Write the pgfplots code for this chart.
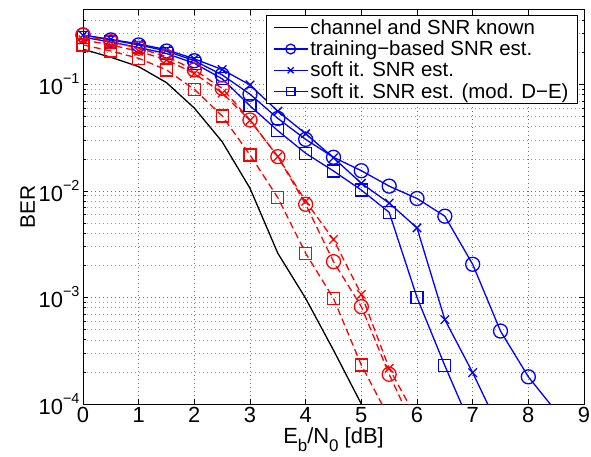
\documentclass[border=0pt]{standalone}
\usepackage{fontspec}
\setmainfont{Liberation Sans}
\usepackage{pgfplots}
\pgfplotsset{compat=1.18}

\newcommand\pten[1]{10\raisebox{11bp}{\fontsize{14.5}{14.5}\selectfont −#1}}
\newcommand\lowsub[1]{\raisebox{-8bp}{\fontsize{17}{17}\selectfont #1}}

\begin{document}
\begin{tikzpicture}
\begin{axis}[
    scale only axis,
    width=501bp, height=394bp,
    ymode=log,
    xmin=0, xmax=9,
    ymin=1e-4, ymax=0.5,
    xtick={0,1,2,3,4,5,6,7,8,9},
    xticklabels={0,1,2,3,4,5,6,7,8,9},
    ytick={1e-4,1e-3,1e-2,1e-1},
    yticklabels={\pten{4},\pten{3},\pten{2},\pten{1}},
    minor ytick={2e-4,3e-4,4e-4,5e-4,6e-4,7e-4,8e-4,9e-4,
                 2e-3,3e-3,4e-3,5e-3,6e-3,7e-3,8e-3,9e-3,
                 2e-2,3e-2,4e-2,5e-2,6e-2,7e-2,8e-2,9e-2,
                 0.2,0.3,0.4},
    grid=both,
    major grid style={black!55, dash pattern=on 0.8bp off 3.2bp, line width=0.7bp},
    minor grid style={black!40, dash pattern=on 0.8bp off 3.2bp, line width=0.7bp},
    tick align=inside,
    xtick pos=both, ytick pos=both,
    major tick length=5bp, minor tick length=2.5bp,
    tick style={black, line width=0.8bp},
    axis line style={black, line width=1bp},
    every tick label/.append style={font=\fontsize{22}{26}\selectfont},
    xlabel style={font=\fontsize{22}{26}\selectfont, yshift=2bp},
    ylabel style={font=\fontsize{21}{25}\selectfont, yshift=-3bp},
    xlabel={E\lowsub{b}/N\lowsub{0} [dB]},
    ylabel={BER},
    legend style={at={(0.988,0.987)}, anchor=north east,
        draw=black, line width=1bp, font=\fontsize{20.5}{23}\selectfont,
        cells={anchor=west}, row sep=1bp, inner xsep=7bp, inner ysep=2bp},
    legend image code/.code={
        \draw[mark repeat=2, mark phase=2, #1, every mark/.append style={scale=0.7}]
        plot coordinates {(0bp,0bp) (17bp,0bp) (34bp,0bp)};},
]
% channel and SNR known
\addplot[black, line width=1.3bp] coordinates {
    (0,0.214) (0.5,0.18) (1,0.147) (1.5,0.104) (2,0.06) (2.5,0.029)
    (3,0.0106) (3.5,0.0026) (4,0.00098) (4.5,0.00032) (5,0.0001) (5.5,0.00003)
};
\addlegendentry{channel and SNR known}
% training-based SNR est.
\addplot[blue, line width=1.3bp, mark=o, mark size=7bp] coordinates {
    (0,0.292) (0.5,0.262) (1,0.235) (1.5,0.206) (2,0.167) (2.5,0.123)
    (3,0.081) (3.5,0.048) (4,0.0305) (4.5,0.0207) (5,0.0155) (5.5,0.0111)
    (6,0.0085) (6.5,0.0058) (7,0.00205) (7.5,0.000484) (8,0.00018) (8.5,0.000085)
};
\addlegendentry{training−based SNR est.}
% soft it. SNR est.
\addplot[blue, line width=1.3bp, mark=x, mark size=6bp] coordinates {
    (0,0.29) (0.5,0.265) (1,0.24) (1.5,0.212) (2,0.174) (2.5,0.138)
    (3,0.099) (3.5,0.056) (4,0.0345) (4.5,0.0205) (5,0.0118) (5.5,0.0077)
    (6,0.0045) (6.5,0.00062) (7,0.000197) (7.5,0.000056)
};
\addlegendentry{soft it. SNR est.}
% soft it. SNR est. (mod. D-E)
\addplot[blue, line width=1.3bp, mark=square, mark size=6bp] coordinates {
    (0,0.278) (0.5,0.25) (1,0.222) (1.5,0.195) (2,0.158) (2.5,0.113)
    (3,0.063) (3.5,0.0368) (4,0.0226) (4.5,0.0154) (5,0.0102) (5.5,0.0063)
    (6,0.001) (6.5,0.000229) (7,0.000057)
};
\addlegendentry{soft it. SNR est. (mod. D−E)}
% red dashed series
\addplot[red, line width=1.3bp, dash pattern=on 7bp off 4bp, mark=o, mark size=7bp,
    mark options={solid}, forget plot] coordinates {
    (0,0.29) (0.5,0.252) (1,0.219) (1.5,0.183) (2,0.137) (2.5,0.092)
    (3,0.0464) (3.5,0.021) (4,0.0075) (4.5,0.00217) (5,0.00082) (5.5,0.00019)
    (6,0.000052)
};
\addplot[red, line width=1.3bp, dash pattern=on 7bp off 4bp, mark=x, mark size=6bp,
    mark options={solid}, forget plot] coordinates {
    (0,0.262) (0.5,0.235) (1,0.205) (1.5,0.17) (2,0.127) (2.5,0.083)
    (3,0.046) (3.5,0.021) (4,0.008) (4.5,0.0035) (5,0.00107) (5.5,0.000216)
    (6,0.000072)
};
\addplot[red, line width=1.3bp, dash pattern=on 7bp off 4bp, mark=square, mark size=6bp,
    mark options={solid}, forget plot] coordinates {
    (0,0.235) (0.5,0.206) (1,0.176) (1.5,0.137) (2,0.09) (2.5,0.0506)
    (3,0.0218) (3.5,0.00865) (4,0.0026) (4.5,0.00098) (5,0.000232) (5.5,0.000074)
};
\end{axis}
\pgfresetboundingbox
\path[use as bounding box] ([xshift=-83bp,yshift=-53bp]current axis.south west)
    rectangle ([xshift=7bp,yshift=10bp]current axis.north east);
\end{tikzpicture}
\end{document}
